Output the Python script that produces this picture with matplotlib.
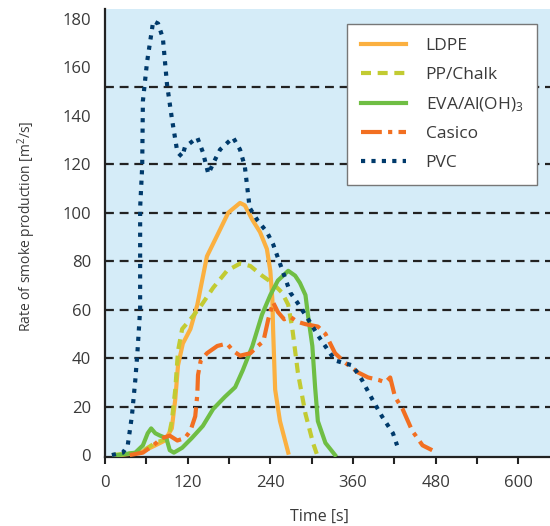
import matplotlib.pyplot as plt
import numpy as np

# === Smoke production rate curves ===
ldpe_t = [22, 51, 73, 87, 97, 102, 106, 113, 124, 134, 141, 148, 167, 179, 196, 203, 214, 225, 235, 240, 243, 244, 247, 254, 266]
ldpe_v = [0, 1, 4, 6, 11, 23, 37, 46, 52, 62, 72, 82, 93, 100, 104, 103, 97, 92, 85, 76, 64, 52, 27, 14, 1]

pp_t = [10, 51, 73, 92, 97, 102, 106, 112, 124, 138, 157, 177, 196, 211, 228, 243, 257, 266, 272, 280, 291, 302, 308]
pp_v = [0, 1, 5, 7, 14, 27, 43, 52, 56, 61, 69, 76, 79, 78, 74, 71, 67, 62, 52, 34, 17, 5, 0]

eva_t = [19, 44, 55, 62, 67, 73, 80, 89, 94, 100, 112, 126, 142, 157, 174, 189, 200, 214, 228, 240,
         251, 266, 276, 283, 291, 295, 301, 305, 309, 320, 334]
eva_v = [0, 1, 4, 9, 11, 9, 8, 7, 2, 1, 3, 7, 12, 19, 24, 28, 35, 45, 58, 66,
         72, 76, 74, 71, 66, 57, 45, 28, 14, 5, 0]

casico_t = [36, 55, 70, 83, 94, 105, 116, 124, 131, 134, 135, 139, 148, 163, 177, 186, 196, 211, 222, 230,
            237, 244, 251, 260, 269, 279, 291, 309, 320, 334, 349, 368, 382, 397, 407, 414, 421, 432, 446, 461, 475]
casico_v = [0, 1, 4, 7, 8, 6, 7, 10, 16, 25, 33, 39, 42, 45, 46, 43, 41, 42, 45, 47,
            56, 63, 59, 56, 57, 55, 54, 53, 50, 42, 38, 34, 32, 31, 30, 32, 24, 19, 10, 4, 2]

pvc_t = [10, 26, 33, 39, 44, 47, 51, 51, 51, 54, 55, 61, 70, 77, 84, 90, 97, 105, 112, 116, 134, 142, 150,
         160, 167, 186, 196, 203, 210, 221, 235, 244, 254, 269, 279, 295, 310, 334, 359, 373, 388, 402, 418, 424]
pvc_v = [0, 1, 4, 16, 31, 42, 60, 76, 102, 119, 146, 162, 179, 178, 172, 153, 139, 125, 123, 127, 131, 125, 116,
         122, 126, 131, 126, 119, 102, 97, 92, 87, 79, 67, 63, 56, 49, 39, 37, 31, 23, 16, 9, 4]

grid_levels = [20, 40, 60, 80, 100, 120, 152]
y_ticks = list(range(0, 181, 20))
x_ticks = list(range(0, 601, 120))
x_minor = list(range(60, 601, 120))

text_col = "#3a3a3a"
plt.rcParams['font.family'] = ['Open Sans', 'DejaVu Sans']
plt.rcParams['mathtext.fontset'] = 'custom'
plt.rcParams['mathtext.rm'] = 'Open Sans'
plt.rcParams['mathtext.it'] = 'Open Sans'
plt.rcParams['font.size'] = 12

fig = plt.figure(figsize=(5.5, 5.26), dpi=100)
ax = fig.add_axes([105 / 550, 69 / 526, 445 / 550, 448 / 526])
ax.set_facecolor("#d5ecf8")

for lvl in grid_levels:
    ax.axhline(lvl, color="#222222", lw=1.6, ls=(0, (4, 2.6)), zorder=1)

ax.plot(ldpe_t, ldpe_v, color="#fbb040", lw=3, label="LDPE", zorder=3)
ax.plot(pp_t, pp_v, color="#c2cb32", lw=3, ls=(0, (2.4, 1.6)), label="PP/Chalk", zorder=3)
ax.plot(eva_t, eva_v, color="#6fbe44", lw=3, label=r"EVA/Al(OH)$_3$", zorder=3)
ax.plot(casico_t, casico_v, color="#f26f21", lw=3, ls=(0, (5, 1.5, 1, 1.5)), label="Casico", zorder=3)
ax.plot(pvc_t, pvc_v, color="#003a6b", lw=3, ls=(0, (1, 1.5)), label="PVC", zorder=4)

ax.set_xlim(0, 646)
ax.set_ylim(-0.8, 184)
ax.set_xticks(x_ticks)
ax.set_xticks(x_minor, minor=True)
ax.set_yticks(y_ticks)
ax.tick_params(axis='x', which='both', direction='out', length=5, width=1.5, color="#222222",
               labelcolor=text_col, pad=8)
ax.tick_params(axis='y', length=0, labelcolor=text_col, pad=10)

for side in ['top', 'right']:
    ax.spines[side].set_visible(False)
for side in ['left', 'bottom']:
    ax.spines[side].set_linewidth(1.6)
    ax.spines[side].set_color("#222222")

ax.set_xlabel("Time [s]", color=text_col, fontsize=11.5)
ax.set_ylabel(r"Rate of smoke production [m$^2$/s]", color=text_col, fontsize=10)
ax.xaxis.set_label_coords(0.483, -0.115)
ax.yaxis.set_label_coords(-0.15, 0.515)

leg = ax.legend(loc='upper right', bbox_to_anchor=(0.971, 0.966), borderaxespad=0,
                fancybox=False, framealpha=1, edgecolor="#777777", handlelength=2.6,
                labelspacing=0.72, borderpad=0.8, handletextpad=1.1, fontsize=12.5)
leg.get_frame().set_linewidth(1.0)
for t in leg.get_texts():
    t.set_color(text_col)

fig.savefig("out.png", dpi=100)
